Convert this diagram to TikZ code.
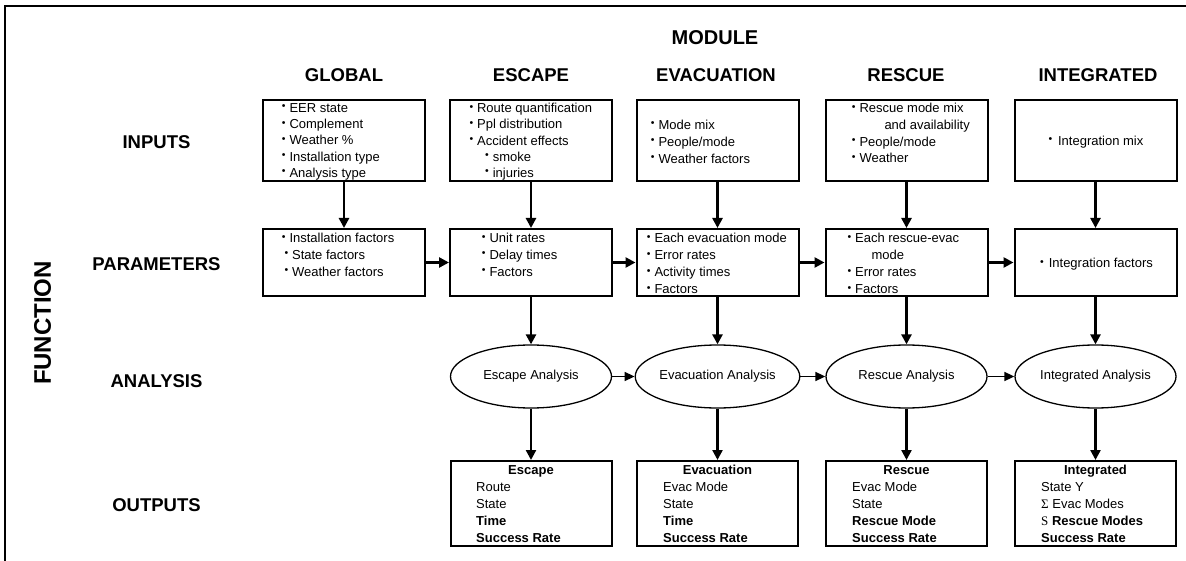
\documentclass[tikz,border=0pt]{standalone}
\usepackage{fontspec}
\setmainfont{Liberation Sans}
\newfontfamily\symserif{Liberation Serif}
\usetikzlibrary{arrows.meta,shapes.geometric}

% small raised bullet used in the list boxes
\newcommand{\bt}{\makebox[7.6pt][l]{\raisebox{2.6pt}{\fontsize{10.5}{10}\selectfont\textbullet}}}
\newcommand{\lines}[1]{\begin{tabular}[t]{@{}l@{}}#1\end{tabular}}

\begin{document}
\begin{tikzpicture}[x=1pt,y=-1pt,
  inbox/.style={draw, line width=2pt, minimum width=162pt, minimum height=81pt, inner sep=0pt},
  parbox/.style={draw, line width=2pt, minimum width=162pt, minimum height=67pt, inner sep=0pt},
  outbox/.style={draw, line width=2pt, minimum width=161pt, minimum height=85pt, inner sep=0pt},
  anell/.style={draw, ellipse, line width=1.3pt, minimum width=161pt, minimum height=63pt,
    inner sep=0pt, font=\fontsize{13}{16}\selectfont},
  txt/.style={anchor=base west, inner sep=0pt, font=\fontsize{13}{#1}\selectfont},
  txt/.default=16.5,
  ttl/.style={anchor=base, inner sep=0pt, font=\bfseries\fontsize{13}{16}\selectfont},
  lab/.style={inner sep=0pt, font=\bfseries\fontsize{18.5}{22}\selectfont},
  arr/.style={-{Triangle[length=10pt,width=10pt]}, line width=2.6pt},
  arrthin/.style={-{Triangle[length=10pt,width=9pt]}, line width=1.6pt}
]
\useasboundingbox (0,0) rectangle (1186,561);

% outer frame (left and top edges)
\draw[line width=1.3pt] (5,561) -- (5,6) -- (1186,6);

% headings
\node[lab, font=\bfseries\fontsize{20}{24}\selectfont] (hmod) at (715,38) {MODULE};
\node[lab] (hglob) at (344,75) {GLOBAL};
\node[lab] (hesc) at (531,75) {ESCAPE};
\node[lab] (hevac) at (716,75) {EVACUATION};
\node[lab] (hres) at (906,75) {RESCUE};
\node[lab] (hint) at (1098,75) {INTEGRATED};

\node[lab] (rin) at (156.5,141.7) {INPUTS};
\node[lab] (rpar) at (156.5,264) {PARAMETERS};
\node[lab] (rana) at (156.5,380.7) {ANALYSIS};
\node[lab] (rout) at (156.5,505) {OUTPUTS};
\node[lab, rotate=90, font=\bfseries\fontsize{24}{28}\selectfont] (rfun) at (42.5,323) {FUNCTION};

% input lists
\node[txt=16.2] (in1t) at (281.7,112.6) {\lines{\bt EER state\\ \bt Complement\\ \bt Weather \%\\ \bt Installation type\\ \bt Analysis type}};
\node[txt=16.2] (in2t) at (469.3,112.8) {\lines{\bt Route quantification\\ \bt Ppl distribution\\ \bt Accident effects\\ \hspace*{15.7pt}\bt smoke\\ \hspace*{15.7pt}\bt injuries}};
\node[txt=17] (in3t) at (650.7,129.6) {\lines{\bt Mode mix\\ \bt People/mode\\ \bt Weather factors}};
\node[txt=16.7] (in4t) at (851.7,112.8) {\lines{\bt Rescue mode mix\\ \hspace*{32.6pt}and availability\\ \bt People/mode\\ \bt Weather}};
\node[txt] (in5t) at (1048.3,145.3) {\bt\hspace*{2pt}Integration mix};

% parameter lists
\node[txt=16.7] (pa1t) at (281.7,242.9) {\lines{\bt Installation factors\\ \hspace*{2.6pt}\bt State factors\\ \hspace*{2.6pt}\bt Weather factors}};
\node[txt=16.7] (pa2t) at (481.7,242.9) {\lines{\bt Unit rates\\ \bt Delay times\\ \bt Factors}};
\node[txt=17] (pa3t) at (646.7,242.9) {\lines{\bt Each evacuation mode\\ \bt Error rates\\ \bt Activity times\\ \bt Factors}};
\node[txt=17] (pa4t) at (847.3,242.9) {\lines{\bt Each rescue-evac\\ \hspace*{24pt}mode\\ \bt Error rates\\ \bt Factors}};
\node[txt] (pa5t) at (1040,267.9) {\bt\hspace*{1pt}Integration factors};

% output lists
\node[ttl] (ou2h) at (531,474.6) {Escape};
\node[txt=17] (ou2t) at (476,491.6) {\lines{Route\\ State\\ \textbf{Time}\\ \textbf{Success Rate}}};
\node[ttl] (ou3h) at (717.5,474.6) {Evacuation};
\node[txt=17] (ou3t) at (663,491.6) {\lines{Evac Mode\\ State\\ \textbf{Time}\\ \textbf{Success Rate}}};
\node[ttl] (ou4h) at (906.5,474.6) {Rescue};
\node[txt=17] (ou4t) at (852,491.6) {\lines{Evac Mode\\ State\\ \textbf{Rescue Mode}\\ \textbf{Success Rate}}};
\node[ttl] (ou5h) at (1095.5,474.6) {Integrated};
\node[txt=17] (ou5t) at (1041,491.6) {\lines{State Y\\ {\symserif Σ} Evac Modes\\ {\symserif S} \textbf{Rescue Modes}\\ \textbf{Success Rate}}};

% boxes
\node[inbox] (in1) at (344,140.5) {};
\node[inbox] (in2) at (531,140.5) {};
\node[inbox] (in3) at (717.5,140.5) {};
\node[inbox] (in4) at (906.5,140.5) {};
\node[inbox] (in5) at (1095.5,140.5) {};

\node[parbox] (pa1) at (344,262.5) {};
\node[parbox] (pa2) at (531,262.5) {};
\node[parbox] (pa3) at (717.5,262.5) {};
\node[parbox] (pa4) at (906.5,262.5) {};
\node[parbox] (pa5) at (1095.5,262.5) {};

\node[anell] (an2) at (531,376.5) {Escape Analysis};
\node[anell] (an3) at (717.5,376.5) {Evacuation Analysis};
\node[anell] (an4) at (906.5,376.5) {Rescue Analysis};
\node[anell] (an5) at (1095.5,376.5) {Integrated Analysis};

\node[outbox] (ou2) at (531,503.5) {};
\node[outbox] (ou3) at (717.5,503.5) {};
\node[outbox] (ou4) at (906.5,503.5) {};
\node[outbox] (ou5) at (1095.5,503.5) {};

% inputs to parameters
\foreach \i in {1,...,5} \draw[arr] (in\i.south) -- (pa\i.north);
% parameters chained left to right
\foreach \i/\j in {1/2,2/3,3/4,4/5} \draw[arr] (pa\i.east) -- (pa\j.west);
% parameters to analyses, analyses to outputs
\foreach \i in {2,...,5} {
  \draw[arr] (pa\i.south) -- (an\i.north);
  \draw[arr, line width=2.3pt] (an\i.south) -- (ou\i.north);
}
% analyses chained left to right
\foreach \i/\j in {2/3,3/4,4/5} \draw[arrthin] (an\i.east) -- (an\j.west);
\end{tikzpicture}
\end{document}
